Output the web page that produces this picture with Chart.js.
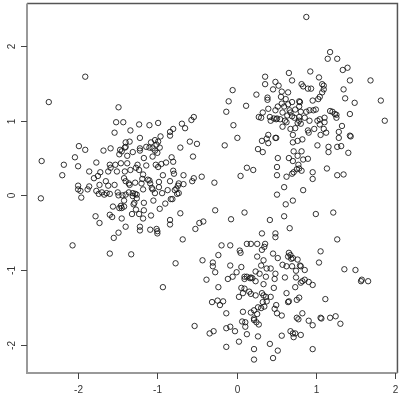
<!DOCTYPE html>
<html>
<head>
<meta charset="utf-8">
<script src="https://cdn.jsdelivr.net/npm/chart.js@4.4.1/dist/chart.umd.min.js"></script>
<style>
  html, body { margin: 0; padding: 0; background: #fff; }
  #wrap { width: 401px; height: 401px; }
</style>
</head>
<body>
<div id="wrap"><canvas id="plot" width="401" height="401"></canvas></div>
<script>
// tick labels
var xTicks = [-2, -1, 0, 1, 2];
var yTicks = [-2, -1, 0, 1, 2];

// points, [x, y]
var outliers = [
  [-1.91, 1.59], [-2.37, 1.25], [-2.46, 0.46], [-2.47, -0.04], [-2.07, -0.67], [0.88, 2.39]
];

var leftCluster = [
  [-1.49, 1.18], [-1.52, 0.98], [-1.43, 0.98], [-1.54, 0.84], [-1.34, 0.87], [-1.23, 0.95],
  [-1.10, 0.94], [-0.99, 0.97], [-0.69, 0.96], [-0.65, 0.90], [-0.57, 1.01], [-0.54, 1.05],
  [-0.80, 0.89], [-0.84, 0.85], [-0.84, 0.80], [-0.96, 0.79], [-0.99, 0.72], [-1.03, 0.74],
  [-1.08, 0.71], [-0.97, 0.64], [-1.01, 0.68], [-1.06, 0.63], [-1.10, 0.64], [-1.14, 0.65],
  [-1.22, 0.77], [-1.35, 0.72], [-1.40, 0.71], [-1.41, 0.64], [-1.40, 0.65], [-1.47, 0.61],
  [-1.59, 0.63], [-1.68, 0.60], [-1.22, 0.63], [-1.31, 0.58], [-1.22, 0.60], [-1.38, 0.53],
  [-1.48, 0.55], [-1.45, 0.59], [-0.71, 0.64], [-0.59, 0.72], [-0.50, 0.69], [-1.00, 0.57],
  [-1.03, 0.60], [-1.17, 0.50], [-1.06, 0.52], [-0.82, 0.51], [-0.80, 0.45], [-0.55, 0.52],
  [-0.89, 0.44], [-0.95, 0.42], [-1.02, 0.41], [-0.99, 0.38], [-1.14, 0.40], [-1.25, 0.41],
  [-1.27, 0.37], [-1.34, 0.34], [-1.41, 0.32], [-1.23, 0.34], [-1.18, 0.28], [-1.19, 0.22],
  [-1.12, 0.21], [-1.10, 0.20], [-0.93, 0.27], [-0.80, 0.33], [-0.79, 0.29], [-0.67, 0.27],
  [-0.44, 0.25], [-0.54, 0.23], [-0.56, 0.19], [-0.28, 0.17], [-1.38, 0.43], [-1.46, 0.43],
  [-1.53, 0.41], [-1.60, 0.41], [-1.59, 0.37], [-1.51, 0.32], [-1.62, 0.32], [-1.72, 0.31],
  [-1.77, 0.44], [-1.99, 0.66], [-1.91, 0.61], [-2.04, 0.51], [-2.18, 0.41], [-2.00, 0.39],
  [-2.20, 0.27], [-1.86, 0.32], [-1.75, 0.26], [-1.80, 0.23], [-1.73, 0.14], [-1.65, 0.19],
  [-1.62, 0.13], [-1.54, 0.14], [-1.42, 0.23], [-1.40, 0.19], [-1.36, 0.16], [-1.35, 0.14],
  [-1.28, 0.17], [-1.20, 0.16], [-1.09, 0.16], [-0.98, 0.18], [-0.84, 0.19], [-0.73, 0.16],
  [-0.67, 0.15], [-0.74, 0.13], [-2.00, 0.13], [-2.00, 0.08], [-1.97, 0.06], [-1.96, -0.03],
  [-1.88, 0.08], [-1.86, 0.12], [-1.77, 0.06], [-1.74, 0.02], [-1.70, 0.04], [-1.67, 0.01],
  [-1.64, 0.03], [-1.60, 0.02], [-1.50, 0.04], [-1.49, 0.00], [-1.44, 0.00], [-1.40, 0.01],
  [-1.36, 0.04], [-1.31, 0.03], [-1.28, 0.02], [-1.31, -0.01], [-1.26, 0.01], [-1.26, -0.04],
  [-1.18, 0.08], [-1.07, 0.10], [-1.06, 0.08], [-0.98, 0.11], [-1.03, 0.03], [-0.94, 0.03],
  [-1.05, -0.07], [-1.17, -0.10], [-1.30, -0.12], [-1.29, -0.10], [-1.42, -0.07], [-1.46, -0.14],
  [-1.56, -0.15], [-1.45, -0.17], [-1.42, -0.15], [-1.48, -0.17], [-0.87, 0.07], [-0.76, 0.09],
  [-0.73, 0.03], [-0.83, -0.05], [-0.81, -0.05], [-0.78, 0.07], [-0.75, 0.02], [-0.97, -0.18],
  [-0.90, -0.11], [-1.32, -0.25], [-1.27, -0.19], [-1.17, -0.20], [-1.08, -0.27], [-1.18, -0.31],
  [-1.23, -0.25], [-1.45, -0.31], [-1.60, -0.26], [-1.57, -0.29], [-1.78, -0.28], [-1.73, -0.37],
  [-1.22, -0.42], [-1.22, -0.47], [-1.40, -0.42], [-1.55, -0.57], [-1.49, -0.50], [-1.09, -0.46],
  [-1.01, -0.45], [-1.00, -0.48], [-1.00, -0.51], [-0.84, -0.33], [-0.84, -0.39], [-0.71, -0.24],
  [-0.68, -0.59], [-1.60, -0.78], [-1.33, -0.79], [-0.77, -0.91], [-0.93, -1.23], [-0.52, -0.45],
  [-0.47, -0.37], [-0.42, -0.35], [-0.27, -0.20], [-0.07, -0.32]
];

var upperCluster = [
  [1.18, 1.92], [1.15, 1.83], [1.27, 1.83], [1.40, 1.71], [1.34, 1.68], [0.93, 1.66],
  [0.66, 1.64], [0.36, 1.59], [0.70, 1.54], [0.49, 1.52], [0.53, 1.47], [0.36, 1.49],
  [0.82, 1.49], [0.84, 1.46], [1.04, 1.58], [1.08, 1.49], [1.10, 1.47], [1.10, 1.42],
  [1.08, 1.38], [1.43, 1.54], [1.69, 1.54], [0.90, 1.43], [0.94, 1.43], [-0.05, 1.41],
  [0.46, 1.42], [0.25, 1.35], [0.57, 1.39], [0.65, 1.38], [1.35, 1.42], [1.37, 1.30],
  [1.05, 1.32], [1.03, 1.29], [0.96, 1.27], [1.82, 1.27], [1.49, 1.24], [0.39, 1.31],
  [0.39, 1.28], [-0.10, 1.26], [0.56, 1.32], [0.62, 1.29], [0.70, 1.25], [0.79, 1.26],
  [0.80, 1.25], [0.57, 1.23], [0.65, 1.22], [0.12, 1.20], [0.40, 1.16], [0.52, 1.19],
  [0.60, 1.19], [0.79, 1.19], [-0.13, 1.12], [0.33, 1.11], [0.49, 1.14], [0.58, 1.11],
  [0.67, 1.14], [0.68, 1.11], [0.74, 1.15], [0.64, 1.07], [0.70, 1.06], [0.81, 1.12],
  [0.88, 1.12], [0.92, 1.14], [0.97, 1.14], [1.00, 1.15], [1.18, 1.13], [1.21, 1.12],
  [1.24, 1.09], [1.43, 1.09], [1.87, 1.00], [0.28, 1.05], [0.31, 1.04], [0.42, 1.05],
  [0.47, 1.03], [0.51, 1.03], [0.55, 1.02], [0.50, 1.02], [0.43, 1.00], [0.61, 1.00],
  [0.63, 0.98], [0.73, 1.04], [0.79, 1.05], [0.86, 1.04], [0.79, 1.00], [0.77, 0.97],
  [0.81, 0.96], [0.92, 1.00], [1.02, 1.00], [1.05, 1.02], [1.11, 1.04], [1.26, 1.04],
  [1.26, 1.08], [0.58, 0.92], [0.68, 0.89], [0.74, 0.90], [-0.04, 0.94], [1.05, 0.95],
  [1.11, 0.98], [0.90, 0.87], [0.98, 0.89], [1.10, 0.89], [1.33, 0.93], [1.29, 0.85],
  [1.13, 0.84], [1.06, 0.81], [1.43, 0.80], [1.44, 0.79], [0.40, 0.81], [0.49, 0.77],
  [0.50, 0.77], [0.71, 0.81], [0.38, 0.76], [0.01, 0.77], [0.32, 0.73], [0.40, 0.70],
  [0.71, 0.71], [0.77, 0.73], [0.83, 0.75], [1.29, 0.77], [1.32, 0.66], [1.27, 0.65],
  [1.02, 0.67], [1.16, 0.65], [-0.15, 0.67], [0.27, 0.62], [0.33, 0.58], [0.72, 0.59],
  [0.82, 0.59], [1.16, 0.58], [1.41, 0.57], [0.77, 0.53], [0.66, 0.50], [0.52, 0.50],
  [0.71, 0.46], [0.84, 0.48], [0.90, 0.49], [0.78, 0.41], [0.51, 0.38], [0.91, 0.84],
  [0.13, 0.37], [0.21, 0.34], [0.79, 0.36], [0.82, 0.33], [0.76, 0.35], [0.72, 0.31],
  [0.70, 0.29], [0.96, 0.31], [0.96, 0.22], [1.14, 0.36], [1.27, 0.27], [1.35, 0.28],
  [0.51, 0.27], [0.05, 0.26], [0.63, 0.25], [0.60, 0.11], [0.84, 0.07], [0.51, 0.01],
  [0.62, -0.12], [0.71, -0.07], [1.00, -0.25], [1.22, -0.23], [0.10, -0.23], [0.60, -0.28],
  [0.42, -0.33], [0.67, -0.44], [1.27, -0.59]
];

var lowerCluster = [
  [0.49, -0.51], [0.49, -0.56], [0.32, -0.51], [-0.08, -0.67], [-0.19, -0.67], [0.04, -0.74],
  [0.13, -0.65], [0.18, -0.65], [0.26, -0.65], [0.36, -0.65], [0.35, -0.69], [0.32, -0.73],
  [0.26, -0.82], [0.05, -0.77], [-0.23, -0.80], [0.46, -0.78], [0.66, -0.77], [0.68, -0.80],
  [0.65, -0.82], [0.69, -0.85], [0.71, -0.84], [0.77, -0.86], [1.06, -0.75], [0.52, -0.84],
  [0.34, -0.87], [-0.43, -0.87], [-0.30, -0.90], [-0.30, -0.95], [-0.08, -0.94], [0.06, -0.96],
  [0.31, -0.94], [0.38, -0.98], [0.43, -0.98], [0.58, -0.93], [0.63, -0.95], [0.70, -0.95],
  [0.80, -0.94], [0.81, -0.95], [0.86, -1.00], [1.04, -0.90], [0.75, -1.01], [0.24, -1.02],
  [0.29, -1.05], [-0.27, -1.03], [0.00, -1.03], [0.49, -1.05], [1.36, -0.99], [1.50, -1.00],
  [0.10, -1.09], [0.13, -1.09], [0.18, -1.10], [0.20, -1.11], [0.17, -1.11], [0.10, -1.12],
  [-0.05, -1.09], [-0.11, -1.12], [-0.38, -1.13], [0.37, -1.09], [0.48, -1.12], [0.61, -1.10],
  [0.75, -1.10], [0.86, -1.13], [0.24, -1.15], [0.34, -1.19], [0.81, -1.17], [0.83, -1.15],
  [0.91, -1.16], [0.96, -1.20], [1.58, -1.13], [1.57, -1.15], [1.66, -1.15], [-0.23, -1.23],
  [0.06, -1.24], [0.10, -1.25], [0.47, -1.24], [0.74, -1.23], [0.16, -1.29], [0.08, -1.31],
  [0.32, -1.31], [0.63, -1.31], [0.03, -1.36], [0.18, -1.32], [0.24, -1.34], [0.34, -1.34],
  [0.37, -1.36], [0.43, -1.36], [0.79, -1.37], [0.76, -1.40], [0.66, -1.42], [0.65, -1.43],
  [1.12, -1.39], [-0.31, -1.43], [-0.24, -1.41], [-0.17, -1.42], [-0.21, -1.47], [0.33, -1.43],
  [0.38, -1.42], [0.35, -1.49], [0.27, -1.50], [0.31, -1.51], [0.50, -1.47], [0.48, -1.52],
  [-0.13, -1.58], [0.08, -1.56], [0.18, -1.57], [0.22, -1.54], [0.26, -1.59], [0.51, -1.58],
  [0.57, -1.61], [0.83, -1.58], [1.06, -1.64], [1.07, -1.65], [1.18, -1.64], [1.25, -1.62],
  [0.07, -1.69], [0.11, -1.70], [0.22, -1.65], [0.22, -1.67], [0.25, -1.70], [0.28, -1.73],
  [0.11, -1.76], [0.76, -1.64], [0.78, -1.66], [0.91, -1.68], [0.96, -1.74], [1.31, -1.72],
  [-0.53, -1.75], [-0.08, -1.76], [-0.13, -1.78], [-0.02, -1.82], [-0.29, -1.82], [-0.34, -1.85],
  [0.13, -1.86], [0.68, -1.82], [0.71, -1.85], [0.74, -1.85], [0.72, -1.90], [0.81, -1.87],
  [0.57, -1.88], [0.27, -1.89], [0.03, -1.96], [0.42, -1.99], [-0.13, -2.03], [0.22, -2.06],
  [0.52, -2.08], [0.96, -2.06], [0.22, -2.20], [0.46, -2.18]
];

function toPts(arr) {
  return arr.map(function (p) { return {x: p[0], y: p[1]}; });
}

var allPts = toPts(outliers).concat(toPts(leftCluster), toPts(upperCluster), toPts(lowerCluster));

// box + rotated y labels like base R graphics
var rFrame = {
  id: 'rFrame',
  afterDraw: function (chart) {
    var ctx = chart.ctx, a = chart.chartArea;
    var xs = chart.scales.x, ys = chart.scales.y;
    ctx.save();
    ctx.lineWidth = 1.5;
    ctx.strokeStyle = '#555';
    ctx.beginPath();
    ctx.moveTo(a.left, a.top); ctx.lineTo(a.right, a.top); ctx.lineTo(a.right, a.bottom);
    ctx.stroke();
    ctx.strokeStyle = '#999';
    ctx.lineWidth = 2;
    ctx.beginPath();
    ctx.moveTo(a.left, a.top); ctx.lineTo(a.left, a.bottom); ctx.lineTo(a.right, a.bottom);
    ctx.stroke();
    ctx.lineWidth = 1;
    ctx.strokeStyle = '#444';
    ctx.fillStyle = '#333';
    ctx.font = '10px "Liberation Sans", Arial, sans-serif';
    xTicks.forEach(function (t) {
      var px = Math.round(xs.getPixelForValue(t)) + 0.5;
      ctx.beginPath(); ctx.moveTo(px, a.bottom); ctx.lineTo(px, a.bottom + 6); ctx.stroke();
      ctx.textAlign = 'center'; ctx.textBaseline = 'middle';
      ctx.fillText(String(t), px, a.bottom + 17);
    });
    yTicks.forEach(function (t) {
      var py = Math.round(ys.getPixelForValue(t)) + 0.5;
      ctx.beginPath(); ctx.moveTo(a.left - 6, py); ctx.lineTo(a.left, py); ctx.stroke();
      ctx.save();
      ctx.translate(a.left - 15, py);
      ctx.rotate(-Math.PI / 2);
      ctx.textAlign = 'center'; ctx.textBaseline = 'middle';
      ctx.fillText(String(t), 0, 0);
      ctx.restore();
    });
    ctx.restore();
  }
};

new Chart(document.getElementById('plot').getContext('2d'), {
  type: 'scatter',
  data: {
    datasets: [{
      data: allPts,
      pointStyle: 'circle',
      pointRadius: 2.7,
      pointBorderWidth: 0.85,
      borderColor: '#111',
      backgroundColor: 'rgba(0,0,0,0)',
      pointHoverRadius: 2.7
    }]
  },
  options: {
    responsive: false,
    animation: false,
    events: [],
    layout: {padding: {top: 1, right: 1, left: 0, bottom: 0}},
    plugins: {
      legend: {display: false},
      tooltip: {enabled: false}
    },
    scales: {
      x: {
        type: 'linear',
        min: -2.645,
        max: 2.03,
        grid: {display: false},
        border: {display: false},
        ticks: {display: false},
        afterFit: function (s) { s.height = 28; }
      },
      y: {
        type: 'linear',
        min: -2.38,
        max: 2.57,
        grid: {display: false},
        border: {display: false},
        ticks: {display: false},
        afterFit: function (s) { s.width = 27; }
      }
    }
  },
  plugins: [rFrame]
});
</script>
</body>
</html>
